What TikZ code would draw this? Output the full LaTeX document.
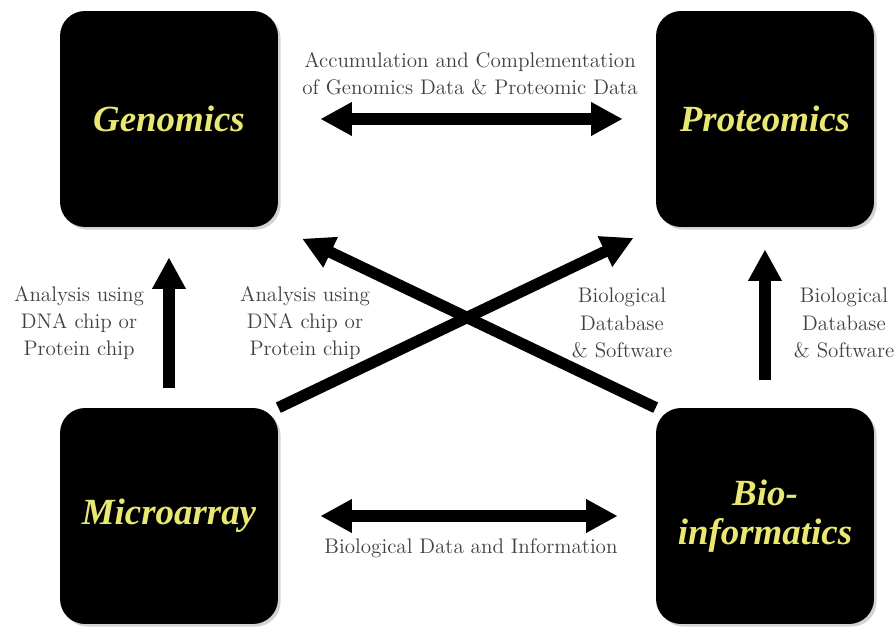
\documentclass[tikz,border=0pt]{standalone}
\usepackage{fontspec}
\newfontfamily\boxfont{Liberation Serif}
\usetikzlibrary{arrows.meta,shadows}
\definecolor{labelyellow}{RGB}{232,232,115}
\begin{document}
\begin{tikzpicture}[x=0.02cm, y=-0.02cm,
    field/.style={fill=black, rounded corners=0.5cm, minimum width=4.36cm, minimum height=4.32cm,
        drop shadow={opacity=0.35, shadow xshift=1.5pt, shadow yshift=-1.5pt},
        text=labelyellow, font=\boxfont\fontsize{21}{22}\selectfont\bfseries\itshape, align=center},
    note/.style={text=black!75, font=\rmfamily\fontsize{12}{15.5}\selectfont, align=center},
    flow/.style={line width=6.5pt, -{Triangle[width=18pt,length=18pt]}},
    twoway/.style={line width=6.5pt, {Triangle[width=18pt,length=18pt]}-{Triangle[width=18pt,length=18pt]}}]
        \useasboundingbox (0,0) rectangle (896,631);

        \node[field] (genomics) at (169,119) {Genomics};
        \node[field] (proteomics) at (765,119) {Proteomics};
        \node[field] (microarray) at (169,516) {Microarray};
        \node[field] (bioinfo) at (765,516) {Bio-\\informatics};

        \draw[twoway, shorten <=0.84cm, shorten >=0.66cm] (genomics) -- (proteomics);
        \draw[twoway, shorten <=0.84cm, shorten >=0.76cm] (microarray) -- (bioinfo);

        \draw[flow] ([yshift=0.4cm]microarray.north) -- ([yshift=-0.6cm]genomics.south);
        \draw[flow] ([yshift=0.56cm]bioinfo.north) -- ([yshift=-0.44cm]proteomics.south);

        \draw[flow, shorten >=14] (microarray.north east) -- (proteomics.south west);
        \draw[flow, shorten >=15] (bioinfo.north west) -- (genomics.south east);

        \node[note] (accum) at (470,74) {Accumulation and Complementation\\of Genomics Data \& Proteomic Data};
        \node[note] (chipa) at (79,323) {Analysis using\\DNA chip or\\Protein chip};
        \node[note] (chipb) at (305,323) {Analysis using\\DNA chip or\\Protein chip};
        \node[note] (dba) at (622,323) {Biological\\Database\\\& Software};
        \node[note] (dbb) at (844,323) {Biological\\Database\\\& Software};
        \node[note] (bioinf) at (471,548) {Biological Data and Information};
\end{tikzpicture}
\end{document}
